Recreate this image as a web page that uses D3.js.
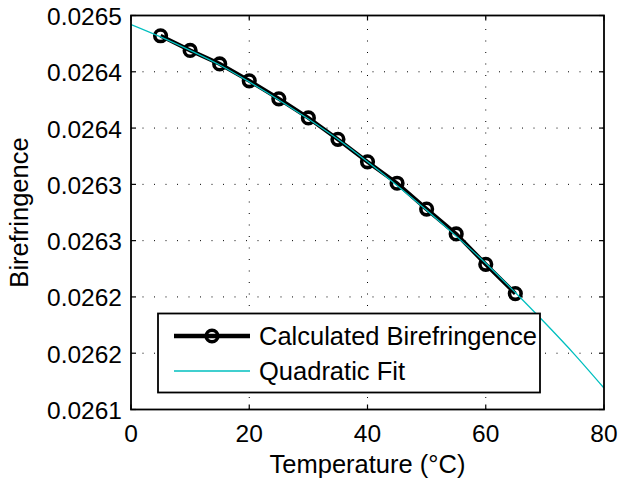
<!DOCTYPE html>
<html>
<head>
<meta charset="utf-8">
<script src="https://d3js.org/d3.v7.min.js"></script>
<style>
 body { margin: 0; background: #fff; }
 svg text { font-family: "Liberation Sans", Arial, Helvetica, sans-serif; fill: #000; }
</style>
</head>
<body>
<svg width="618" height="479"></svg>
<script>
// Data
var temps = [5, 10, 15, 20, 25, 30, 35, 40, 45, 50, 55, 60, 65];
var biref = [0.026482, 0.026469, 0.026457, 0.026442, 0.026426, 0.026409, 0.026390,
 0.026370, 0.026351, 0.026328, 0.026306, 0.026279, 0.026253];

var fitTemps = [0, 5, 10, 15, 20, 25, 30, 35, 40, 45, 50, 55, 60, 65, 70, 75, 80];
var fitBiref = [0.026492, 0.026481, 0.026469, 0.026456, 0.026441, 0.026425, 0.026408,
 0.026390, 0.026370, 0.026349, 0.026327, 0.026304, 0.026280, 0.026254, 0.026227,
 0.026199, 0.026169];

var xTicks = [0, 20, 40, 60, 80];
var yTicks = [0.0265, 0.02645, 0.0264, 0.02635, 0.0263, 0.02625, 0.0262, 0.02615];
var yTickLabels = ["0.0265", "0.0264", "0.0264", "0.0263", "0.0263", "0.0262", "0.0262", "0.0261"];

var seriesNames = ["Calculated Birefringence", "Quadratic Fit"];

var fitColor = "#00bfbf";

var svg = d3.select("svg"),
 margin = {
  top: 15.5,
  right: 14,
  bottom: 69.5,
  left: 131
 },
 width = +svg.attr("width") - margin.left - margin.right,
 height = +svg.attr("height") - margin.top - margin.bottom;

var x = d3.scaleLinear().domain([0, 80]).range([0, width]);
var y = d3.scaleLinear().domain([0.02615, 0.0265]).range([height, 0]);

var g = svg.append("g")
 .attr("transform", "translate(" + margin.left + "," + margin.top + ")");

g.append("clipPath")
 .attr("id", "plotClip")
 .append("rect")
 .attr("width", width)
 .attr("height", height);

// dotted grid
g.selectAll(".vgrid")
 .data(xTicks.slice(1, -1))
 .enter()
 .append("line")
 .attr("class", "vgrid")
 .attr("x1", function(d) { return x(d); })
 .attr("x2", function(d) { return x(d); })
 .attr("y1", height)
 .attr("y2", 0)
 .attr("stroke", "#000")
 .attr("stroke-width", 1)
 .attr("stroke-dasharray", "1,10.5");

g.selectAll(".hgrid")
 .data(yTicks.slice(1, -1))
 .enter()
 .append("line")
 .attr("class", "hgrid")
 .attr("x1", 0)
 .attr("x2", width)
 .attr("y1", function(d) { return y(d); })
 .attr("y2", function(d) { return y(d); })
 .attr("stroke", "#000")
 .attr("stroke-width", 1)
 .attr("stroke-dasharray", "1,10.5");

// measured series
var pts = temps.map(function(t, i) { return [t, biref[i]]; });
var fitPts = fitTemps.map(function(t, i) { return [t, fitBiref[i]]; });

var line = d3.line()
 .x(function(d) { return x(d[0]); })
 .y(function(d) { return y(d[1]); });

g.append("path")
 .datum(pts)
 .attr("d", line)
 .attr("fill", "none")
 .attr("stroke", "#000")
 .attr("stroke-width", 4);

g.selectAll(".marker")
 .data(pts)
 .enter()
 .append("circle")
 .attr("class", "marker")
 .attr("cx", function(d) { return x(d[0]); })
 .attr("cy", function(d) { return y(d[1]); })
 .attr("r", 5.8)
 .attr("fill", "none")
 .attr("stroke", "#000")
 .attr("stroke-width", 3.6);

// quadratic fit on top
g.append("path")
 .datum(fitPts)
 .attr("d", line.curve(d3.curveMonotoneX))
 .attr("clip-path", "url(#plotClip)")
 .attr("fill", "none")
 .attr("stroke", fitColor)
 .attr("stroke-width", 1.3);

// axes: box with inward ticks on every side
var ax = g.append("g").attr("class", "axes");

ax.append("rect")
 .attr("width", width)
 .attr("height", height)
 .attr("fill", "none")
 .attr("stroke", "#000")
 .attr("stroke-width", 1.8);

var tickLen = 5;
xTicks.forEach(function(t) {
 ax.append("line").attr("x1", x(t)).attr("x2", x(t)).attr("y1", height).attr("y2", height - tickLen)
  .attr("stroke", "#000").attr("stroke-width", 1.2);
 ax.append("line").attr("x1", x(t)).attr("x2", x(t)).attr("y1", 0).attr("y2", tickLen)
  .attr("stroke", "#000").attr("stroke-width", 1.2);
});
yTicks.forEach(function(t) {
 ax.append("line").attr("x1", 0).attr("x2", tickLen).attr("y1", y(t)).attr("y2", y(t))
  .attr("stroke", "#000").attr("stroke-width", 1.2);
 ax.append("line").attr("x1", width).attr("x2", width - tickLen).attr("y1", y(t)).attr("y2", y(t))
  .attr("stroke", "#000").attr("stroke-width", 1.2);
});

// tick labels
ax.selectAll(".xlab")
 .data(xTicks)
 .enter()
 .append("text")
 .attr("class", "xlab")
 .attr("x", function(d) { return x(d); })
 .attr("y", height + 32)
 .attr("text-anchor", "middle")
 .attr("font-size", "24.5px")
 .text(function(d) { return d; });

ax.selectAll(".ylab")
 .data(yTicks)
 .enter()
 .append("text")
 .attr("class", "ylab")
 .attr("x", -9)
 .attr("y", function(d) { return y(d) + 9.5; })
 .attr("text-anchor", "end")
 .attr("font-size", "24.5px")
 .text(function(d, i) { return yTickLabels[i]; });

// axis titles
svg.append("text")
 .attr("x", margin.left + width / 2)
 .attr("y", 473)
 .attr("text-anchor", "middle")
 .attr("font-size", "25.5px")
 .text("Temperature (\u00B0C)");

svg.append("text")
 .attr("transform", "translate(28," + (margin.top + height / 2) + ") rotate(-90)")
 .attr("text-anchor", "middle")
 .attr("font-size", "25.5px")
 .text("Birefringence");

// legend
var leg = svg.append("g").attr("class", "legend");

leg.append("rect")
 .attr("x", 158)
 .attr("y", 313.5)
 .attr("width", 382)
 .attr("height", 79)
 .attr("fill", "#fff")
 .attr("stroke", "#000")
 .attr("stroke-width", 1.8);

var rowY = [336, 371];

leg.append("line")
 .attr("x1", 174).attr("x2", 250)
 .attr("y1", rowY[0]).attr("y2", rowY[0])
 .attr("stroke", "#000")
 .attr("stroke-width", 4.5);

leg.append("circle")
 .attr("cx", 212)
 .attr("cy", rowY[0])
 .attr("r", 5.8)
 .attr("fill", "none")
 .attr("stroke", "#000")
 .attr("stroke-width", 3.6);

leg.append("line")
 .attr("x1", 174).attr("x2", 250)
 .attr("y1", rowY[1]).attr("y2", rowY[1])
 .attr("stroke", fitColor)
 .attr("stroke-width", 1.3);

leg.selectAll(".legtext")
 .data(seriesNames)
 .enter()
 .append("text")
 .attr("class", "legtext")
 .attr("x", 259)
 .attr("y", function(d, i) { return rowY[i] + 9; })
 .attr("font-size", "25.5px")
 .text(function(d) { return d; });
</script>
</body>
</html>
